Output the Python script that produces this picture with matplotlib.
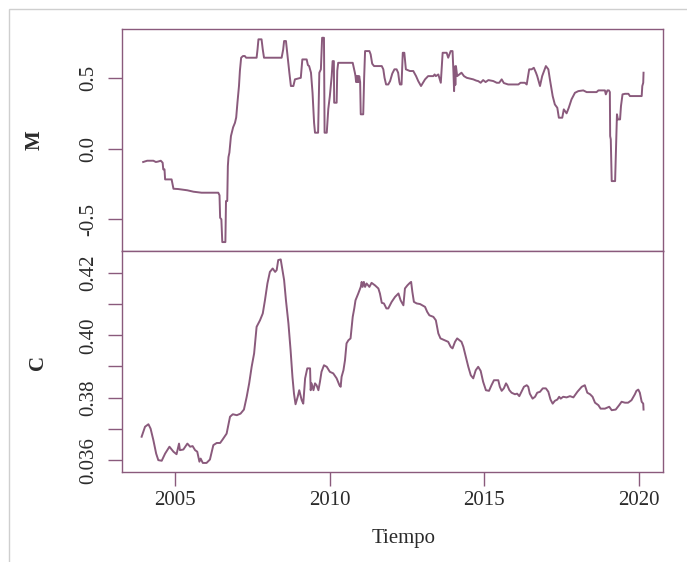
import matplotlib
matplotlib.use('Agg')
import matplotlib.pyplot as plt
from matplotlib.patches import Rectangle

# serie M
M_t = [2003.97, 2004.10, 2004.30, 2004.38, 2004.45, 2004.54, 2004.60, 2004.62, 2004.66, 2004.68,
       2004.89, 2004.95, 2005.10, 2005.40, 2005.60, 2005.86, 2006.40, 2006.44, 2006.46, 2006.50,
       2006.53, 2006.63, 2006.65, 2006.69, 2006.71, 2006.73, 2006.76, 2006.81, 2006.88, 2006.94,
       2006.98, 2007.02, 2007.07, 2007.10, 2007.14, 2007.20, 2007.26, 2007.30, 2007.64, 2007.67,
       2007.70, 2007.80, 2007.84, 2007.88, 2008.45, 2008.50, 2008.53, 2008.59, 2008.63, 2008.70,
       2008.75, 2008.83, 2008.88, 2009.07, 2009.10, 2009.12, 2009.26, 2009.30, 2009.34, 2009.40,
       2009.45, 2009.50, 2009.53, 2009.63, 2009.67, 2009.72, 2009.76, 2009.82, 2009.84, 2009.91,
       2009.96, 2010.01, 2010.07, 2010.10, 2010.14, 2010.15, 2010.23, 2010.25, 2010.28, 2010.75,
       2010.82, 2010.84, 2010.86, 2010.88, 2010.90, 2010.92, 2010.94, 2010.96, 2010.99, 2011.01,
       2011.09, 2011.12, 2011.15, 2011.29, 2011.33, 2011.38, 2011.44, 2011.69, 2011.74, 2011.78,
       2011.83, 2011.90, 2011.96, 2012.03, 2012.10, 2012.17, 2012.22, 2012.26, 2012.28, 2012.33,
       2012.37, 2012.42, 2012.47, 2012.60, 2012.71, 2012.80, 2012.87, 2012.96, 2013.09, 2013.19,
       2013.36, 2013.40, 2013.44, 2013.52, 2013.60, 2013.66, 2013.79, 2013.84, 2013.92, 2013.98,
       2014.01, 2014.03, 2014.05, 2014.07, 2014.09, 2014.13, 2014.27, 2014.35, 2014.44, 2014.65,
       2014.75, 2014.81, 2014.89, 2014.97, 2015.05, 2015.14, 2015.30, 2015.41, 2015.49, 2015.57,
       2015.64, 2015.78, 2016.11, 2016.18, 2016.32, 2016.38, 2016.46, 2016.54, 2016.61, 2016.68,
       2016.72, 2016.81, 2016.88, 2017.00, 2017.08, 2017.13, 2017.22, 2017.29, 2017.37, 2017.42,
       2017.53, 2017.58, 2017.67, 2017.74, 2017.83, 2017.94, 2018.05, 2018.21, 2018.32, 2018.64,
       2018.70, 2018.91, 2018.94, 2018.99, 2019.04, 2019.07, 2019.08, 2019.10, 2019.13, 2019.24,
       2019.27, 2019.30, 2019.33, 2019.40, 2019.43, 2019.48, 2019.56, 2019.67, 2019.72, 2020.10,
       2020.12, 2020.15, 2020.16]
M_v = [-0.095, -0.086, -0.086, -0.095, -0.092, -0.086, -0.100, -0.147, -0.147, -0.218,
       -0.218, -0.284, -0.286, -0.295, -0.305, -0.312, -0.312, -0.330, -0.489, -0.500,
       -0.661, -0.661, -0.371, -0.371, -0.124, -0.060, -0.029, 0.088, 0.150, 0.182,
       0.220, 0.324, 0.442, 0.550, 0.642, 0.654, 0.654, 0.642, 0.642, 0.700,
       0.772, 0.772, 0.700, 0.642, 0.642, 0.700, 0.760, 0.760, 0.677, 0.536,
       0.442, 0.442, 0.489, 0.500, 0.580, 0.630, 0.630, 0.590, 0.583, 0.536,
       0.394, 0.182, 0.112, 0.112, 0.536, 0.560, 0.783, 0.783, 0.112, 0.112,
       0.280, 0.371, 0.512, 0.618, 0.618, 0.324, 0.324, 0.550, 0.606, 0.606,
       0.536, 0.512, 0.470, 0.512, 0.470, 0.512, 0.470, 0.512, 0.470, 0.242,
       0.242, 0.500, 0.689, 0.689, 0.666, 0.600, 0.583, 0.583, 0.560, 0.500,
       0.453, 0.453, 0.477, 0.530, 0.560, 0.560, 0.536, 0.470, 0.453, 0.453,
       0.677, 0.677, 0.560, 0.548, 0.548, 0.512, 0.477, 0.442, 0.489, 0.512,
       0.512, 0.524, 0.512, 0.524, 0.465, 0.677, 0.677, 0.642, 0.689, 0.689,
       0.536, 0.406, 0.580, 0.450, 0.583, 0.512, 0.536, 0.512, 0.500, 0.489,
       0.480, 0.477, 0.465, 0.484, 0.470, 0.484, 0.477, 0.465, 0.465, 0.489,
       0.463, 0.453, 0.453, 0.465, 0.465, 0.453, 0.560, 0.560, 0.571, 0.536,
       0.512, 0.442, 0.512, 0.583, 0.560, 0.489, 0.371, 0.312, 0.288, 0.218,
       0.218, 0.277, 0.249, 0.288, 0.348, 0.394, 0.406, 0.411, 0.399, 0.399,
       0.411, 0.411, 0.383, 0.411, 0.411, 0.399, 0.088, 0.065, -0.230, -0.230,
       0.006, 0.242, 0.206, 0.206, 0.300, 0.383, 0.387, 0.387, 0.371, 0.371,
       0.442, 0.465, 0.536]

# serie C
C_t = [2003.92, 2004.03, 2004.14, 2004.21, 2004.30, 2004.39, 2004.46, 2004.57, 2004.68, 2004.82,
       2004.95, 2005.05, 2005.13, 2005.16, 2005.27, 2005.40, 2005.49, 2005.57, 2005.65, 2005.72,
       2005.79, 2005.83, 2005.90, 2006.02, 2006.13, 2006.24, 2006.35, 2006.46, 2006.54, 2006.67,
       2006.78, 2006.87, 2007.00, 2007.12, 2007.23, 2007.32, 2007.40, 2007.48, 2007.56, 2007.64,
       2007.75, 2007.84, 2007.91, 2007.99, 2008.07, 2008.16, 2008.24, 2008.29, 2008.34, 2008.42,
       2008.46, 2008.53, 2008.59, 2008.67, 2008.74, 2008.80, 2008.85, 2008.90, 2008.97, 2009.02,
       2009.10, 2009.15, 2009.21, 2009.28, 2009.37, 2009.39, 2009.42, 2009.48, 2009.53, 2009.58,
       2009.64, 2009.69, 2009.74, 2009.82, 2009.91, 2010.01, 2010.12, 2010.23, 2010.32, 2010.36,
       2010.39, 2010.45, 2010.50, 2010.55, 2010.61, 2010.68, 2010.75, 2010.80, 2010.84, 2010.93,
       2011.01, 2011.04, 2011.07, 2011.11, 2011.15, 2011.20, 2011.29, 2011.36, 2011.47, 2011.58,
       2011.63, 2011.69, 2011.76, 2011.84, 2011.90, 2012.01, 2012.12, 2012.23, 2012.30, 2012.39,
       2012.44, 2012.52, 2012.60, 2012.64, 2012.68, 2012.73, 2012.82, 2012.93, 2013.09, 2013.16,
       2013.23, 2013.36, 2013.44, 2013.52, 2013.59, 2013.73, 2013.84, 2013.92, 2013.98, 2014.06,
       2014.13, 2014.27, 2014.33, 2014.41, 2014.49, 2014.57, 2014.65, 2014.73, 2014.81, 2014.89,
       2014.97, 2015.06, 2015.16, 2015.24, 2015.32, 2015.46, 2015.51, 2015.57, 2015.64, 2015.71,
       2015.75, 2015.82, 2015.89, 2016.00, 2016.07, 2016.14, 2016.21, 2016.29, 2016.38, 2016.43,
       2016.48, 2016.57, 2016.65, 2016.72, 2016.81, 2016.90, 2017.00, 2017.08, 2017.15, 2017.22,
       2017.29, 2017.37, 2017.43, 2017.48, 2017.56, 2017.67, 2017.78, 2017.89, 2018.02, 2018.16,
       2018.26, 2018.34, 2018.43, 2018.51, 2018.59, 2018.70, 2018.77, 2018.91, 2019.05, 2019.13,
       2019.26, 2019.37, 2019.45, 2019.56, 2019.66, 2019.77, 2019.88, 2019.93, 2019.99, 2020.04,
       2020.10, 2020.15, 2020.16]
C_v = [0.3675, 0.3707, 0.3715, 0.3701, 0.3664, 0.3621, 0.3600, 0.3598, 0.3621, 0.3643,
       0.3627, 0.3619, 0.3653, 0.3632, 0.3634, 0.3653, 0.3643, 0.3645, 0.3632, 0.3627,
       0.3595, 0.3605, 0.3591, 0.3591, 0.3602, 0.3648, 0.3655, 0.3655, 0.3666, 0.3685,
       0.3739, 0.3747, 0.3744, 0.3749, 0.3762, 0.3803, 0.3846, 0.3899, 0.3942, 0.4027,
       0.4048, 0.4070, 0.4112, 0.4166, 0.4203, 0.4214, 0.4203, 0.4209, 0.4241, 0.4243,
       0.4219, 0.4177, 0.4112, 0.4038, 0.3952, 0.3867, 0.3813, 0.3779, 0.3803, 0.3824,
       0.3792, 0.3781, 0.3862, 0.3894, 0.3894, 0.3824, 0.3846, 0.3824, 0.3846, 0.3840,
       0.3824, 0.3851, 0.3883, 0.3904, 0.3899, 0.3883, 0.3878, 0.3862, 0.3840, 0.3835,
       0.3867, 0.3888, 0.3920, 0.3974, 0.3984, 0.3990, 0.4059, 0.4086, 0.4112, 0.4134,
       0.4155, 0.4171, 0.4155, 0.4171, 0.4155, 0.4166, 0.4155, 0.4168, 0.4160, 0.4150,
       0.4134, 0.4104, 0.4102, 0.4086, 0.4086, 0.4107, 0.4123, 0.4134, 0.4112, 0.4096,
       0.4150, 0.4160, 0.4168, 0.4171, 0.4139, 0.4107, 0.4102, 0.4100, 0.4091, 0.4075,
       0.4064, 0.4059, 0.4048, 0.4006, 0.3990, 0.3984, 0.3979, 0.3963, 0.3958, 0.3979,
       0.3990, 0.3979, 0.3963, 0.3931, 0.3899, 0.3872, 0.3862, 0.3888, 0.3899, 0.3886,
       0.3851, 0.3824, 0.3822, 0.3840, 0.3856, 0.3856, 0.3835, 0.3822, 0.3830, 0.3846,
       0.3840, 0.3824, 0.3816, 0.3811, 0.3813, 0.3805, 0.3819, 0.3835, 0.3840, 0.3835,
       0.3813, 0.3797, 0.3803, 0.3816, 0.3819, 0.3830, 0.3830, 0.3819, 0.3794, 0.3781,
       0.3790, 0.3794, 0.3803, 0.3797, 0.3803, 0.3801, 0.3805, 0.3801, 0.3819, 0.3835,
       0.3840, 0.3816, 0.3811, 0.3803, 0.3784, 0.3776, 0.3765, 0.3765, 0.3771, 0.3760,
       0.3762, 0.3776, 0.3787, 0.3784, 0.3784, 0.3792, 0.3811, 0.3822, 0.3826, 0.3816,
       0.3787, 0.3781, 0.3762]

M_ticks = [-0.5, 0.0, 0.5]
M_labels = ['-0.5', '0.0', '0.5']
C_ticks = [0.36, 0.37, 0.38, 0.39, 0.40, 0.41, 0.42]
C_labels = ['0.036', '', '0.38', '', '0.40', '', '0.42']
year_ticks = [2005, 2010, 2015, 2020]

LINE = '#8a5a7c'
TXT = '#2b2b2b'

plt.rcParams['font.family'] = ['Liberation Serif', 'DejaVu Serif']

fig = plt.figure(figsize=(6.87, 5.62), dpi=100)
# marco gris exterior
fig.add_artist(Rectangle((9 / 687, -0.5), 2, 0.5 + 1 - 9 / 562, transform=fig.transFigure,
                         fill=False, edgecolor='#cfcfcf', lw=1))

W = 540.7 / 687
ax1 = fig.add_axes([122 / 687, 1 - 251 / 562, W, 222 / 562])
ax2 = fig.add_axes([122 / 687, 1 - 472 / 562, W, 221 / 562])

ax1.plot(M_t, M_v, color=LINE, lw=1.4)
ax2.plot(C_t, C_v, color=LINE, lw=1.4)

for ax in (ax1, ax2):
    ax.set_xlim(2003.285, 2020.78)
    for s in ax.spines.values():
        s.set_color(LINE)
        s.set_linewidth(1.0)
    ax.tick_params(axis='y', length=10, width=1, color=LINE, pad=7, labelsize=15, labelcolor=TXT)
    ax.tick_params(axis='x', length=10, width=1, color=LINE, pad=4, labelsize=15, labelcolor=TXT)

ax1.set_ylim(-0.724, 0.845)
ax1.set_yticks(M_ticks)
ax1.set_yticklabels(M_labels)
ax1.tick_params(axis='x', bottom=False, labelbottom=False)

ax2.set_ylim(0.3562, 0.4270)
ax2.set_yticks(C_ticks)
ax2.set_yticklabels(C_labels)
ax2.set_xticks(year_ticks)
ax2.set_xticklabels([str(y) for y in year_ticks])

for ax in (ax1, ax2):
    for lab in ax.get_yticklabels():
        lab.set_rotation(90)
        lab.set_va('center')

fig.text(35 / 687, 1 - 140 / 562, 'M', rotation=90, ha='center', va='center',
         fontsize=15, fontweight='bold', color=TXT)
fig.text(37.5 / 687, 1 - 362 / 562, 'C', rotation=90, ha='center', va='center',
         fontsize=15, fontweight='bold', color=TXT)
fig.text(404 / 687, 1 - 543 / 562, 'Tiempo', ha='center', va='baseline', fontsize=15, color=TXT)

fig.savefig('out.png', dpi=100)
